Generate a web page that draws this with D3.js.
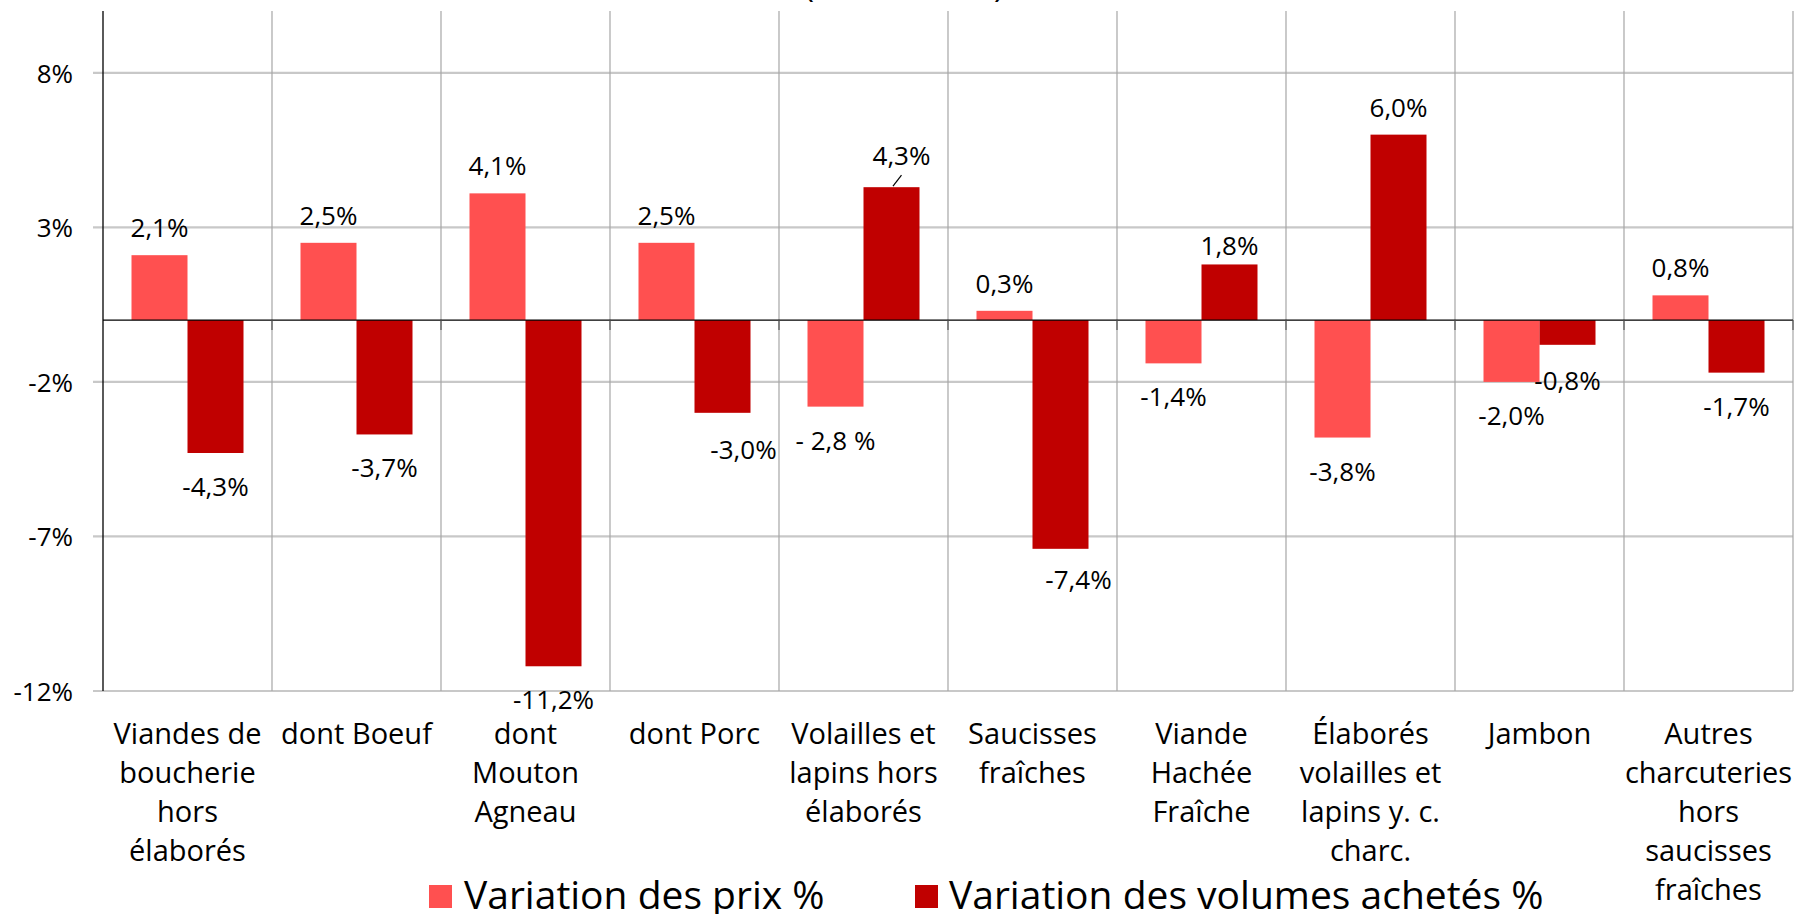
<!DOCTYPE html>
<html>
<head>
<meta charset="utf-8">
<script src="https://cdn.jsdelivr.net/npm/d3@7"></script>
<style>
  html, body { margin: 0; padding: 0; background: #ffffff; overflow: hidden; }
  svg { display: block; font-family: "Open Sans", "Noto Sans", sans-serif; }
</style>
</head>
<body>
<svg id="chart" width="1795" height="914"></svg>
<script>
// ---- Data ----
const categories = [
  "Viandes de\nboucherie\nhors\nélaborés",
  "dont Boeuf",
  "dont\nMouton\nAgneau",
  "dont Porc",
  "Volailles et\nlapins hors\nélaborés",
  "Saucisses\nfraîches",
  "Viande\nHachée\nFraîche",
  "Élaborés\nvolailles et\nlapins y. c.\ncharc.",
  "Jambon",
  "Autres\ncharcuteries\nhors\nsaucisses\nfraîches"
];
const priceValues  = [2.1, 2.5, 4.1, 2.5, -2.8, 0.3, -1.4, -3.8, -2.0, 0.8];
const volumeValues = [-4.3, -3.7, -11.2, -3.0, 4.3, -7.4, 1.8, 6.0, -0.8, -1.7];
const priceLabels  = ["2,1%", "2,5%", "4,1%", "2,5%", "- 2,8 %", "0,3%", "-1,4%", "-3,8%", "-2,0%", "0,8%"];
const volumeLabels = ["-4,3%", "-3,7%", "-11,2%", "-3,0%", "4,3%", "-7,4%", "1,8%", "6,0%", "-0,8%", "-1,7%"];
const yTickValues  = [8, 3, -2, -7, -12];
const yTickLabels  = ["8%", "3%", "-2%", "-7%", "-12%"];
const seriesNames  = ["Variation des prix %", "Variation des volumes achetés %"];
const titleText    = "(2023 / 2022)";

// ---- Layout / style ----
const W = 1795, H = 914;
const plot = { left: 103, right: 1793, top: 11, bottom: 691 };
const colors = ["#FF5050", "#C00000"];
const barW = 56;
// manual label nudges (series index, category index) -> [dx, dy]
const nudges = { "1-3": [21, 3], "1-4": [10, -4], "1-5": [18, -3], "1-6": [0, 9], "1-8": [0, 2] };
const leaders = new Set(["1-4"]);

const svg = d3.select("#chart");

const x = d3.scaleBand().domain(d3.range(categories.length)).range([plot.left, plot.right]).padding(0);
const bw = x.bandwidth();
const xs = d3.scaleBand().domain([0, 1]).range([bw / 2 - barW, bw / 2 + barW]).padding(0);
const y = d3.scaleLinear().domain([-12, 10]).range([plot.bottom, plot.top]);

// title (mostly outside the frame, as in the reference)
svg.append("text")
  .attr("x", 904).attr("y", -3)
  .attr("text-anchor", "middle")
  .attr("font-size", 33)
  .attr("fill", "#000")
  .text(titleText);

// horizontal gridlines
svg.append("g")
  .selectAll("line")
  .data(yTickValues)
  .join("line")
  .attr("x1", plot.left - 10).attr("x2", plot.right)
  .attr("y1", d => y(d)).attr("y2", d => y(d))
  .attr("stroke", "#c8c8c8").attr("stroke-width", 2.2);

// vertical gridlines (category boundaries)
svg.append("g")
  .selectAll("line")
  .data(d3.range(categories.length))
  .join("line")
  .attr("x1", d => x(d) + bw).attr("x2", d => x(d) + bw)
  .attr("y1", plot.top).attr("y2", plot.bottom)
  .attr("stroke", "#a6a6a6").attr("stroke-width", 1.2);

// y tick labels
svg.append("g")
  .selectAll("text")
  .data(yTickValues)
  .join("text")
  .attr("x", 73).attr("y", d => y(d))
  .attr("text-anchor", "end")
  .attr("dominant-baseline", "central")
  .attr("font-size", 26)
  .attr("fill", "#000")
  .text((d, i) => yTickLabels[i]);

// bars
const series = [priceValues, volumeValues];
series.forEach((vals, s) => {
  svg.append("g")
    .selectAll("rect")
    .data(vals)
    .join("rect")
    .attr("x", (d, i) => x(i) + xs(s))
    .attr("width", xs.bandwidth())
    .attr("y", d => y(Math.max(0, d)))
    .attr("height", d => Math.abs(y(d) - y(0)))
    .attr("fill", colors[s]);
});

// zero line and y axis line
svg.append("line")
  .attr("x1", plot.left).attr("x2", plot.right)
  .attr("y1", y(0)).attr("y2", y(0))
  .attr("stroke", "#000").attr("stroke-width", 1.3);
svg.append("g")
  .selectAll("line")
  .data(d3.range(categories.length))
  .join("line")
  .attr("x1", d => x(d) + bw).attr("x2", d => x(d) + bw)
  .attr("y1", y(0)).attr("y2", y(0) + 10)
  .attr("stroke", "#555").attr("stroke-width", 1.2);
svg.append("line")
  .attr("x1", plot.left).attr("x2", plot.left)
  .attr("y1", plot.top).attr("y2", plot.bottom)
  .attr("stroke", "#000").attr("stroke-width", 1.3);

// value labels
const labelSets = [priceLabels, volumeLabels];
series.forEach((vals, s) => {
  const g = svg.append("g");
  vals.forEach((d, i) => {
    const key = s + "-" + i;
    const [dx, dy] = nudges[key] || [0, 0];
    const cx = x(i) + xs(s) + xs.bandwidth() / 2;
    const cy = d >= 0 ? y(d) - 28 : y(d) + 33;
    g.append("text")
      .attr("x", cx + dx).attr("y", cy + dy)
      .attr("text-anchor", "middle")
      .attr("dominant-baseline", "central")
      .attr("font-size", 26)
      .attr("fill", "#000")
      .text(labelSets[s][i]);
    if (leaders.has(key)) {
      g.append("line")
        .attr("x1", cx + 1.5).attr("y1", y(d) - 1)
        .attr("x2", cx + dx).attr("y2", y(d) - 12)
        .attr("stroke", "#000").attr("stroke-width", 1.2);
    }
  });
});

// category labels
const cat = svg.append("g");
categories.forEach((c, i) => {
  const t = cat.append("text")
    .attr("x", x(i) + bw / 2)
    .attr("y", 744)
    .attr("text-anchor", "middle")
    .attr("font-size", 29)
    .attr("fill", "#000");
  c.split("\n").forEach((ln, k) => {
    t.append("tspan")
      .attr("x", x(i) + bw / 2)
      .attr("y", 744 + k * 39)
      .text(ln);
  });
});

// legend
const legendPos = [{ sx: 429, tx: 464 }, { sx: 915, tx: 949 }];
const lg = svg.append("g");
seriesNames.forEach((n, s) => {
  lg.append("rect")
    .attr("x", legendPos[s].sx).attr("y", 885)
    .attr("width", 23).attr("height", 23)
    .attr("fill", colors[s]);
  lg.append("text")
    .attr("x", legendPos[s].tx).attr("y", 909)
    .attr("font-size", 39)
    .attr("fill", "#000")
    .text(n);
});
</script>
</body>
</html>
